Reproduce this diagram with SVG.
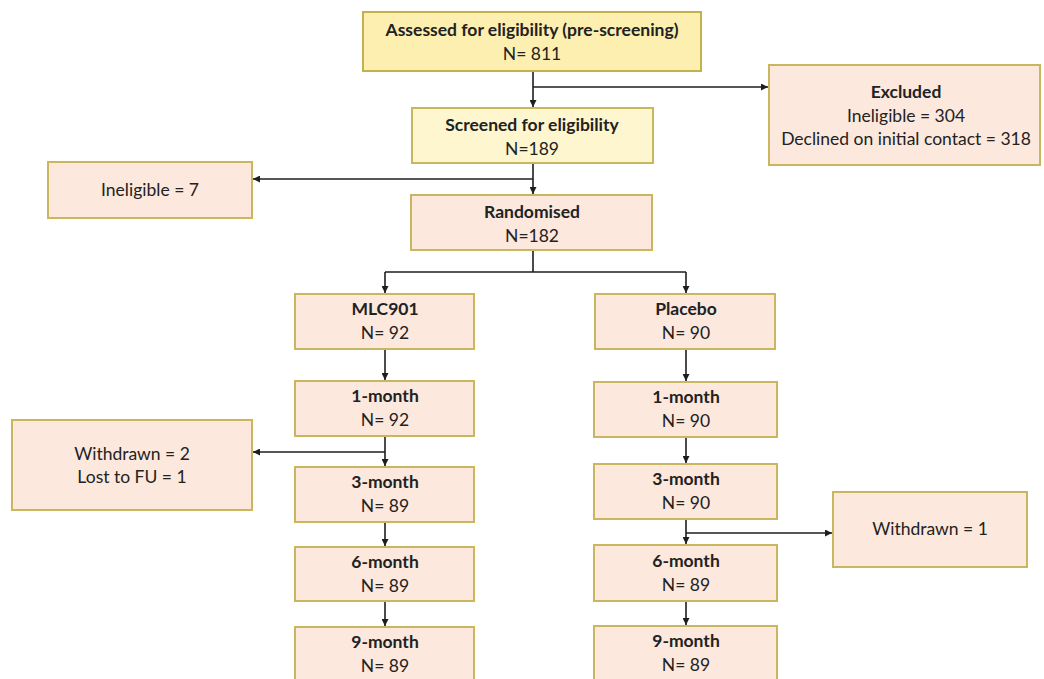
<svg xmlns="http://www.w3.org/2000/svg" width="1044" height="679" viewBox="0 0 1044 679">
<style>
.y1{fill:#fcefaf;stroke:#c2b04a;stroke-width:2}
.y2{fill:#fdf6cf;stroke:#c9b75a;stroke-width:2}
.p{fill:#fce8dd;stroke:#c9b65e;stroke-width:2}
text{font-family:Lato,"Open Sans","Liberation Sans",sans-serif;font-size:17.5px;fill:#222;text-anchor:middle}
.b{font-weight:bold}
.c{fill:none;stroke:#1e1e1e;stroke-width:1.6}
</style>
<defs>
<marker id="ah" viewBox="0 0 10 10" refX="10" refY="5" markerWidth="7" markerHeight="7" markerUnits="userSpaceOnUse" orient="auto">
<path d="M0,0 L10,5 L0,10 z" fill="#1e1e1e"/>
</marker>
</defs>
<rect width="1044" height="679" fill="#fff"/>
<g id="connectors">
<path class="c" d="M533,71 V107" marker-end="url(#ah)"/>
<path class="c" d="M533,87 H768" marker-end="url(#ah)"/>
<path class="c" d="M533,163 V194" marker-end="url(#ah)"/>
<path class="c" d="M533,179 H253" marker-end="url(#ah)"/>
<path class="c" d="M533,250 V272 M385,272 H686"/>
<path class="c" d="M385,272 V293" marker-end="url(#ah)"/>
<path class="c" d="M686,272 V293" marker-end="url(#ah)"/>
<path class="c" d="M385,349 V380" marker-end="url(#ah)"/>
<path class="c" d="M385,436 V466" marker-end="url(#ah)"/>
<path class="c" d="M385,452 H253" marker-end="url(#ah)"/>
<path class="c" d="M385,522 V546" marker-end="url(#ah)"/>
<path class="c" d="M385,601 V626" marker-end="url(#ah)"/>
<path class="c" d="M686,349 V381" marker-end="url(#ah)"/>
<path class="c" d="M686,437 V463" marker-end="url(#ah)"/>
<path class="c" d="M686,519 V544" marker-end="url(#ah)"/>
<path class="c" d="M686,533 H832" marker-end="url(#ah)"/>
<path class="c" d="M686,601 V625" marker-end="url(#ah)"/>
</g>
<g id="assessed"><rect class="y1" x="363" y="12" width="338" height="59"/>
<text class="b" x="532" y="36">Assessed for eligibility (pre-screening)</text><text x="532" y="60">N= 811</text></g>
<g id="excluded"><rect class="p" x="769" y="65" width="271" height="100"/>
<text class="b" x="906" y="98">Excluded</text><text x="906" y="122">Ineligible = 304</text><text x="906" y="145">Declined on initial contact = 318</text></g>
<g id="screened"><rect class="y2" x="412" y="108" width="241" height="55"/>
<text class="b" x="532" y="131">Screened for eligibility</text><text x="532" y="155">N=189</text></g>
<g id="ineligible7"><rect class="p" x="48" y="162" width="204" height="56"/>
<text x="150" y="196">Ineligible = 7</text></g>
<g id="randomised"><rect class="p" x="411" y="195" width="241" height="55"/>
<text class="b" x="532" y="218">Randomised</text><text x="532" y="242">N=182</text></g>
<g id="mlc901"><rect class="p" x="295" y="294" width="179" height="55"/>
<text class="b" x="385" y="315">MLC901</text><text x="385" y="339">N= 92</text></g>
<g id="placebo"><rect class="p" x="595" y="294" width="180" height="55"/>
<text class="b" x="686" y="315">Placebo</text><text x="686" y="339">N= 90</text></g>
<g id="m1-month"><rect class="p" x="295" y="381" width="179" height="55"/>
<text class="b" x="385" y="402">1-month</text><text x="385" y="426">N= 92</text></g>
<g id="p1-month"><rect class="p" x="594" y="382" width="183" height="55"/>
<text class="b" x="686" y="403">1-month</text><text x="686" y="427">N= 90</text></g>
<g id="withdrawn2"><rect class="p" x="12" y="420" width="240" height="90"/>
<text x="132" y="460">Withdrawn = 2</text><text x="132" y="483">Lost to FU = 1</text></g>
<g id="m3-month"><rect class="p" x="295" y="467" width="179" height="55"/>
<text class="b" x="385" y="488">3-month</text><text x="385" y="512">N= 89</text></g>
<g id="p3-month"><rect class="p" x="594" y="464" width="183" height="55"/>
<text class="b" x="686" y="485">3-month</text><text x="686" y="509">N= 90</text></g>
<g id="withdrawn1"><rect class="p" x="833" y="492" width="194" height="75"/>
<text x="930" y="535">Withdrawn = 1</text></g>
<g id="m6-month"><rect class="p" x="295" y="547" width="179" height="54"/>
<text class="b" x="385" y="568">6-month</text><text x="385" y="592">N= 89</text></g>
<g id="p6-month"><rect class="p" x="594" y="545" width="183" height="56"/>
<text class="b" x="686" y="567">6-month</text><text x="686" y="591">N= 89</text></g>
<g id="m9-month"><rect class="p" x="295" y="627" width="179" height="56"/>
<text class="b" x="385" y="648">9-month</text><text x="385" y="672">N= 89</text></g>
<g id="p9-month"><rect class="p" x="594" y="626" width="183" height="57"/>
<text class="b" x="686" y="647">9-month</text><text x="686" y="671">N= 89</text></g>
</svg>
